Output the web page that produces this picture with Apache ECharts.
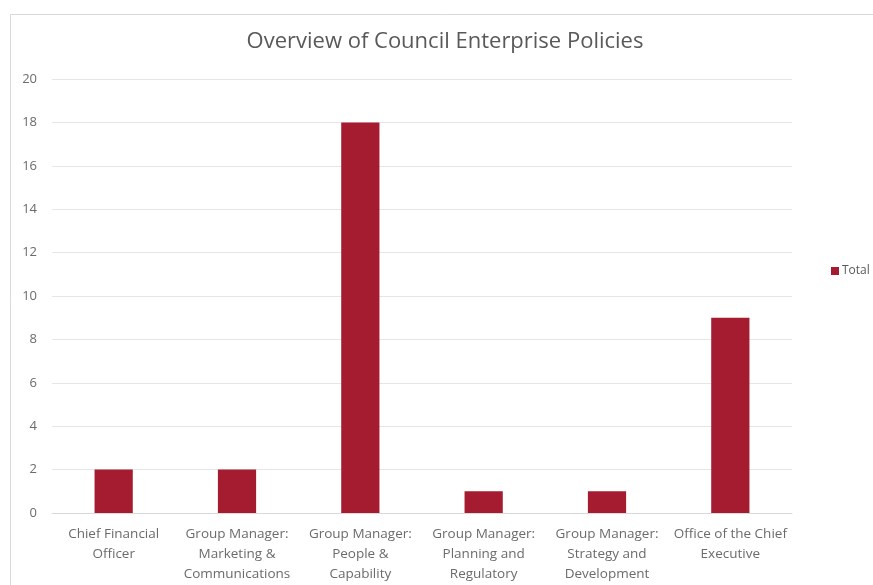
<!DOCTYPE html>
<html>
<head>
<meta charset="utf-8">
<script src="https://cdn.jsdelivr.net/npm/echarts@6/dist/echarts.min.js"></script>
<style>
  html, body { margin: 0; padding: 0; background: #fff; }
  #chart { width: 873px; height: 585px; }
</style>
</head>
<body>
<div id="chart"></div>
<script>
// chart data
var categories = [
  'Chief Financial Officer',
  'Group Manager: Marketing & Communications',
  'Group Manager: People & Capability',
  'Group Manager: Planning and Regulatory',
  'Group Manager: Strategy and Development',
  'Office of the Chief Executive'
];
// how the category names wrap under the axis
var categoryLabels = [
  'Chief Financial\nOfficer',
  'Group Manager:\nMarketing &\nCommunications',
  'Group Manager:\nPeople &\nCapability',
  'Group Manager:\nPlanning and\nRegulatory',
  'Group Manager:\nStrategy and\nDevelopment',
  'Office of the Chief\nExecutive'
];
var totals = [2, 2, 18, 1, 1, 9];
var seriesName = 'Total';
var chartTitle = 'Overview of Council Enterprise Policies';

var font = "'Open Sans', sans-serif";
var chart = echarts.init(document.getElementById('chart'));

chart.setOption({
  animation: false,
  backgroundColor: '#fff',
  title: {
    text: chartTitle,
    left: 440,
    textAlign: 'center',
    top: 26,
    textStyle: {
      fontFamily: font,
      fontSize: 22,
      fontWeight: 'normal',
      color: '#595959'
    }
  },
  graphic: [{
    type: 'rect',
    left: 8,
    top: 12,
    shape: { width: 880, height: 600 },
    style: { fill: 'none', stroke: '#d9d9d9', lineWidth: 1 },
    silent: true
  }],
  legend: {
    data: [seriesName],
    orient: 'vertical',
    left: 826,
    top: 260,
    itemWidth: 8,
    itemHeight: 8,
    itemGap: 4,
    icon: 'rect',
    textStyle: { fontFamily: font, fontSize: 12, color: '#595959', padding: [0, 0, 0, -2] }
  },
  grid: {
    left: 52,
    right: 81,
    top: 79,
    bottom: 72
  },
  xAxis: {
    type: 'category',
    data: categories,
    axisTick: { show: false },
    axisLine: { lineStyle: { color: '#d9d9d9' } },
    axisLabel: {
      interval: 0,
      margin: 11,
      color: '#6b6b6b',
      fontFamily: font,
      fontSize: 13.5,
      lineHeight: 20,
      formatter: function (v, i) { return categoryLabels[i]; }
    }
  },
  yAxis: {
    type: 'value',
    min: 0,
    max: 20,
    interval: 2,
    axisLine: { show: false },
    axisTick: { show: false },
    axisLabel: { color: '#6b6b6b', fontFamily: font, fontSize: 13, margin: 15 },
    splitLine: { lineStyle: { color: '#e6e6e6' } }
  },
  series: [{
    name: seriesName,
    type: 'bar',
    data: totals,
    barWidth: '31%',
    itemStyle: { color: '#a51c30' }
  }]
});
</script>
</body>
</html>
